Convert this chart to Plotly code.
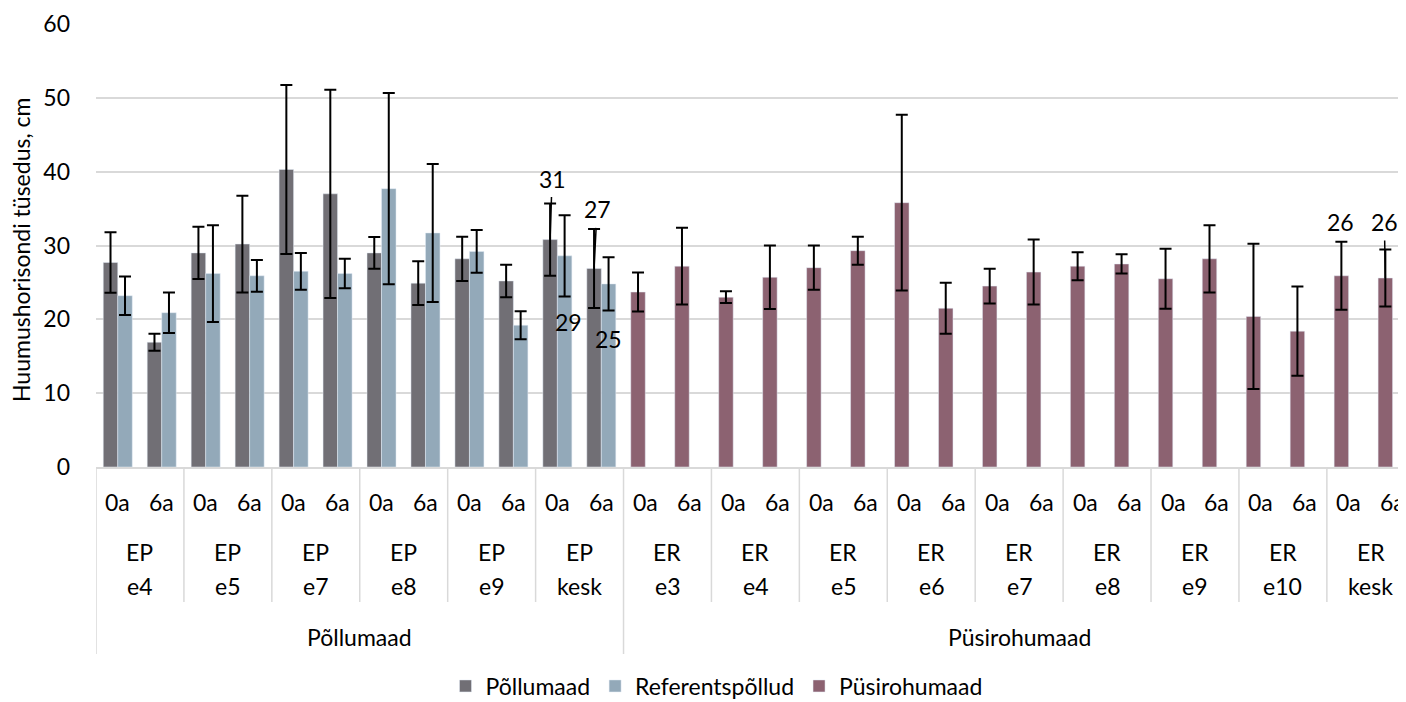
import plotly.graph_objects as go

# ---- data ----
groups = ["Põllumaad", "Püsirohumaad"]
group_sites = [6, 9]
sites = ["EP e4", "EP e5", "EP e7", "EP e8", "EP e9", "EP kesk",
         "ER e3", "ER e4", "ER e5", "ER e6", "ER e7", "ER e8", "ER e9", "ER e10", "ER kesk"]
years = ["0a", "6a"]

# Põllumaad (EP sites, 0a/6a)
pollu_vals = [27.7, 16.9, 29.0, 30.2, 40.3, 37.0, 29.0, 24.9, 28.2, 25.2, 30.8, 26.9]
pollu_err = [4.1, 1.15, 3.55, 6.55, 11.45, 14.1, 2.15, 2.95, 3.0, 2.2, 4.9, 5.35]
# Referentspõllud (EP sites, 0a/6a)
ref_vals = [23.2, 20.9, 26.2, 25.9, 26.5, 26.2, 37.7, 31.7, 29.2, 19.2, 28.6, 24.8]
ref_err = [2.6, 2.75, 6.55, 2.15, 2.5, 2.0, 12.95, 9.35, 2.9, 1.9, 5.5, 3.6]
# Püsirohumaad (ER sites, 0a/6a)
pusi_vals = [23.7, 27.2, 23.0, 25.7, 27.0, 29.3, 35.8, 21.5, 24.5, 26.4,
             27.2, 27.5, 25.5, 28.2, 20.4, 18.4, 25.9, 25.6]
pusi_err = [2.65, 5.2, 0.8, 4.3, 3.0, 1.9, 11.9, 3.45, 2.35, 4.4,
            1.9, 1.3, 4.05, 4.55, 9.85, 6.05, 4.6, 3.85]

colors = {"Põllumaad": "#716F75", "Referentspõllud": "#93A9B9", "Püsirohumaad": "#8C6271"}

# ---- positions (category index) ----
n_ep = len(pollu_vals)
idx_ep = list(range(n_ep))
idx_er = list(range(n_ep, n_ep + len(pusi_vals)))
bw = 0.33
x_pollu = [i - 0.17 for i in idx_ep]
x_ref = [i + 0.16 for i in idx_ep]
x_pusi = [i - 0.17 for i in idx_er]

FONT = "Lato"
FS = 23
err_style = dict(type="data", visible=True, color="black", thickness=2, width=6)

fig = go.Figure()
fig.add_trace(go.Bar(name="Põllumaad", x=x_pollu, y=pollu_vals, width=bw,
                     marker_color=colors["Põllumaad"],
                     error_y=dict(array=pollu_err, **err_style)))
fig.add_trace(go.Bar(name="Referentspõllud", x=x_ref, y=ref_vals, width=bw,
                     marker_color=colors["Referentspõllud"],
                     error_y=dict(array=ref_err, **err_style)))
fig.add_trace(go.Bar(name="Püsirohumaad", x=x_pusi, y=pusi_vals, width=bw,
                     marker_color=colors["Püsirohumaad"],
                     error_y=dict(array=pusi_err, **err_style)))

# ---- geometry (page body has an 8px margin, so the figure is shifted by 8px) ----
OFF = 8
W, H = 1406 - OFF, 702 - OFF
L, T = 96 - OFF, 24 - OFF
axis_y = 467 - OFF
B = H - axis_y
plot_h = H - T - B
plot_w = W - L
def py(ypix):  # reference page y -> paper y
    return (axis_y - (ypix - OFF)) / plot_h
def px(xpix):  # reference page x -> paper x
    return ((xpix - OFF) - L) / plot_w

annotations = []
shapes = []
n_slots = 2 * len(sites)
tfont = dict(family=FONT, size=FS, color="black")

# year labels
for i in range(n_slots):
    annotations.append(dict(x=i, y=py(502), xref="x", yref="paper", text=years[i % 2],
                            showarrow=False, font=tfont, xanchor="center", yanchor="middle"))
# site labels
for k, s in enumerate(sites):
    a, b = s.split(" ")
    for txt, yy in ((a, 552), (b, 586)):
        annotations.append(dict(x=2 * k + 0.5, y=py(yy), xref="x", yref="paper", text=txt,
                                showarrow=False, font=tfont, xanchor="center", yanchor="middle"))
# group labels + separators
start = 0
grp_bounds = [-0.5]
for g, cnt in zip(groups, group_sites):
    lo = 2 * start - 0.5
    hi = 2 * (start + cnt) - 0.5
    annotations.append(dict(x=(lo + hi) / 2, y=py(637), xref="x", yref="paper", text=g,
                            showarrow=False, font=tfont, xanchor="center", yanchor="middle"))
    grp_bounds.append(hi)
    start += cnt
for k in range(len(sites) + 1):
    xb = 2 * k - 0.5
    y1 = py(654) if xb in grp_bounds else py(602)
    shapes.append(dict(type="line", xref="x", yref="paper", x0=xb, x1=xb, y0=0, y1=y1,
                       line=dict(color="#D9D9D9", width=1.5)))

# data labels
def lab(x, v, arrow=False, ax=0, ay=0, xs=0, ys=0):
    d = dict(x=x, y=v, xref="x", yref="y", text=str(round(v)), font=tfont)
    if arrow:
        d.update(showarrow=True, arrowhead=0, arrowwidth=1.5, arrowcolor="black",
                 ax=ax, ay=ay, standoff=0, startstandoff=3)
    else:
        d.update(showarrow=False, xshift=xs, yshift=ys)
    return d

annotations.append(lab(x_pollu[-2], pollu_vals[-2], arrow=True, ax=2, ay=-61))
annotations.append(lab(x_pollu[-1], pollu_vals[-1], arrow=True, ax=3, ay=-59))
annotations.append(lab(x_ref[-2], ref_vals[-2], xs=4, ys=-66))
annotations.append(lab(x_ref[-1], ref_vals[-1], xs=0, ys=-55))
annotations.append(lab(x_pusi[-2], pusi_vals[-2], xs=-1, ys=54))
annotations.append(lab(x_pusi[-1], pusi_vals[-1], arrow=True, ax=-1, ay=-56))

# y-axis title as rotated text left of tick labels
annotations.append(dict(x=px(21), y=py(250), xref="paper", yref="paper",
                        text="Huumushorisondi tüsedus, cm", textangle=-90, showarrow=False,
                        font=tfont, xanchor="center", yanchor="middle"))

fig.update_layout(
    width=W, height=H,
    margin=dict(l=L, r=0, t=T, b=B, autoexpand=False),
    plot_bgcolor="white", paper_bgcolor="white",
    barmode="overlay",
    font=tfont,
    showlegend=True,
    legend=dict(orientation="h", x=px(716.5), xanchor="center", y=py(686), yanchor="middle",
                font=tfont, itemclick=False),
    annotations=annotations,
    shapes=shapes,
    xaxis=dict(range=[-0.5, 29.3], showticklabels=False, showgrid=False, zeroline=False,
               showline=True, linecolor="#D9D9D9", linewidth=1.5, ticks="", automargin=False),
    yaxis=dict(range=[0, 60], dtick=10, showgrid=True, gridcolor="#D9D9D9", gridwidth=1.5,
               zeroline=False, showline=False, ticks="", ticklabelstandoff=25,
               tickfont=tfont, automargin=False),
)

fig.write_html("out.html")
